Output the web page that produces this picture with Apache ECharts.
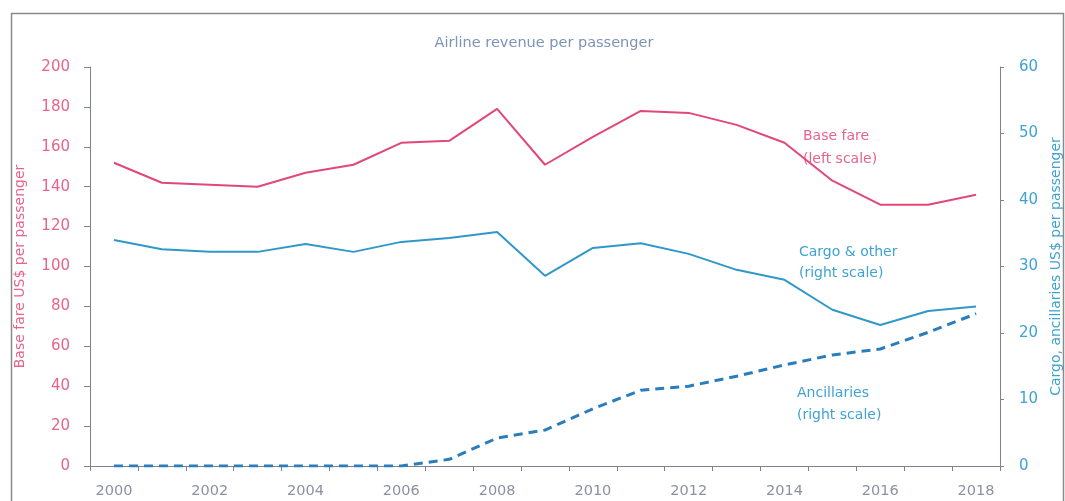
<!DOCTYPE html>
<html>
<head>
<meta charset="utf-8">
<script src="https://cdn.jsdelivr.net/npm/echarts@6/dist/echarts.min.js"></script>
<style>
  html, body { margin: 0; padding: 0; background: #fff; }
  #chart { width: 1065px; height: 501px; }
</style>
</head>
<body>
<div id="chart"></div>
<script>
// Years on the category axis
const years = ['2000','2001','2002','2003','2004','2005','2006','2007','2008','2009',
               '2010','2011','2012','2013','2014','2015','2016','2017','2018'];

// Base fare, US$ per passenger (left scale)
const baseFare = [152, 142, 141, 140, 147, 151, 162, 163, 179, 151,
                  165, 178, 177, 171, 162, 143, 131, 131, 136];

// Cargo & other, US$ per passenger (right scale)
const cargoOther = [34.0, 32.6, 32.2, 32.2, 33.4, 32.2, 33.7, 34.3, 35.2, 28.6,
                    32.8, 33.5, 31.9, 29.5, 28.0, 23.5, 21.2, 23.3, 24.0];

// Ancillaries, US$ per passenger (right scale)
const ancillaries = [0, 0, 0, 0, 0, 0, 0, 1.0, 4.2, 5.4,
                     8.6, 11.4, 12.0, 13.5, 15.2, 16.7, 17.6, 20.1, 22.9];

// Left and right tick values
const leftTicks = [0, 20, 40, 60, 80, 100, 120, 140, 160, 180, 200];
const rightTicks = [0, 10, 20, 30, 40, 50, 60];

const PINK = '#e2477a';
const PINK_TXT = '#e8638c';
const BLUE = '#3098c8';
const BLUE_DARK = '#2a7dbb';
const BLUE_TXT = '#3ea2d2';
const AXIS = '#7c8197';
const FONT = '"DejaVu Sans", sans-serif';

const chart = echarts.init(document.getElementById('chart'));

chart.setOption({
  animation: false,
  textStyle: { fontFamily: FONT },
  title: {
    text: 'Airline revenue per passenger',
    left: 539, top: 31, textAlign: 'center',
    textStyle: { color: '#7d93b8', fontSize: 14.5, fontWeight: 'normal', fontFamily: FONT }
  },
  grid: { left: 90, right: 65, top: 67, bottom: 35, outerBoundsMode: 'none', containLabel: false },
  xAxis: {
    type: 'category',
    data: years,
    boundaryGap: true,
    axisLine: { lineStyle: { color: AXIS, width: 1 } },
    axisTick: { show: true, interval: 0, length: 5, lineStyle: { color: AXIS } },
    axisLabel: { interval: 1, color: '#8c91a3', fontSize: 14.5, margin: 18, fontFamily: FONT },
    splitLine: { show: false }
  },
  yAxis: [
    {
      type: 'value', position: 'left',
      min: leftTicks[0], max: leftTicks[leftTicks.length - 1], interval: 20,
      name: 'Base fare US$ per passenger',
      nameLocation: 'middle', nameGap: 63, nameRotate: 90,
      nameTextStyle: { color: PINK_TXT, fontSize: 14, fontFamily: FONT },
      axisLine: { show: true, lineStyle: { color: AXIS } },
      axisTick: { show: true, length: 6, lineStyle: { color: AXIS } },
      axisLabel: { color: PINK_TXT, fontSize: 15, margin: 20, fontFamily: FONT },
      splitLine: { show: false }
    },
    {
      type: 'value', position: 'right',
      min: rightTicks[0], max: rightTicks[rightTicks.length - 1], interval: 10,
      name: 'Cargo, ancillaries US$ per passenger',
      nameLocation: 'middle', nameGap: 38, nameRotate: 90,
      nameTextStyle: { color: BLUE_TXT, fontSize: 14, fontFamily: FONT },
      axisLine: { show: true, lineStyle: { color: AXIS } },
      axisTick: { show: true, length: 4, lineStyle: { color: AXIS } },
      axisLabel: { color: BLUE_TXT, fontSize: 15, margin: 19, fontFamily: FONT },
      splitLine: { show: false }
    }
  ],
  series: [
    {
      name: 'Base fare', type: 'line', yAxisIndex: 0,
      data: baseFare, symbol: 'none',
      lineStyle: { color: PINK, width: 2 }
    },
    {
      name: 'Cargo & other', type: 'line', yAxisIndex: 1,
      data: cargoOther, symbol: 'none',
      lineStyle: { color: BLUE, width: 2 }
    },
    {
      name: 'Ancillaries', type: 'line', yAxisIndex: 1,
      data: ancillaries, symbol: 'none',
      lineStyle: { color: BLUE_DARK, width: 3, type: [9, 6] }
    }
  ],
  graphic: [
    {
      type: 'rect', left: 9, top: 11, silent: true,
      shape: { width: 1052, height: 500 },
      style: { fill: 'none', stroke: '#8a8a8a', lineWidth: 1.5 }
    },
    {
      type: 'text', left: 803, top: 125, silent: true,
      style: { text: 'Base fare\n(left scale)', fill: PINK_TXT, font: '14px ' + FONT, lineHeight: 23 }
    },
    {
      type: 'text', left: 799, top: 242, silent: true,
      style: { text: 'Cargo & other\n(right scale)', fill: BLUE_TXT, font: '14px ' + FONT, lineHeight: 21 }
    },
    {
      type: 'text', left: 797, top: 382, silent: true,
      style: { text: 'Ancillaries\n(right scale)', fill: BLUE_TXT, font: '14px ' + FONT, lineHeight: 22 }
    }
  ]
});
</script>
</body>
</html>
